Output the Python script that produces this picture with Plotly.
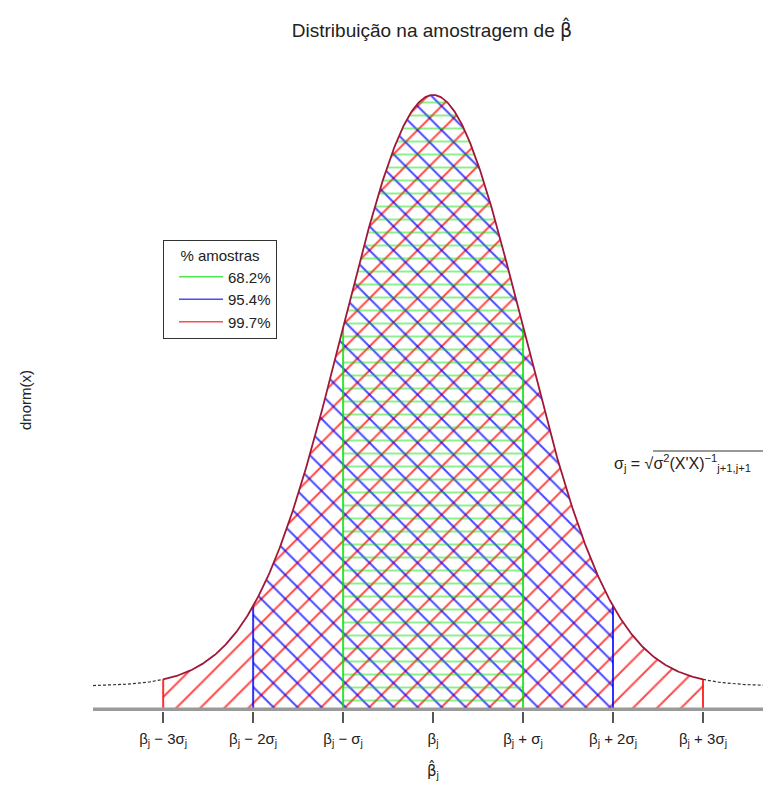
import numpy as np
import plotly.graph_objects as go

# ---- data ----
sigma_mult = [3, 2, 1]                      # half-widths of shaded regions (in sigma)
pct_labels = ["99.7%", "95.4%", "68.2%"]
region_colors = ["#ff0000", "#0000ff", "#00e000"]
hatch_shapes = ["/", "\\", "-"]
hatch_sizes = [17, 17, 13]
hatch_solid = [0.12, 0.12, 0.15]
hatch_opac = [0.7, 0.7, 0.45]
legend_order = [2, 1, 0]                   # legend lists 68.2, 95.4, 99.7

tick_vals = [-3, -2, -1, 0, 1, 2, 3]
tick_text = ["β<sub>j</sub> − 3σ<sub>j</sub>", "β<sub>j</sub> − 2σ<sub>j</sub>",
             "β<sub>j</sub> − σ<sub>j</sub>", "β<sub>j</sub>",
             "β<sub>j</sub> + σ<sub>j</sub>", "β<sub>j</sub> + 2σ<sub>j</sub>",
             "β<sub>j</sub> + 3σ<sub>j</sub>"]

x_min, x_max = -3.78, 3.756
y_min, y_max = -0.01687, 0.4158
base = -0.0159


def dnorm(x):
    return np.exp(-0.5 * np.asarray(x) ** 2) / np.sqrt(2 * np.pi)


fig = go.Figure()

# hatched regions (fill only)
for k, c, shp, sz, so, op in zip(sigma_mult, region_colors, hatch_shapes,
                                 hatch_sizes, hatch_solid, hatch_opac):
    xs = np.linspace(-k, k, 400)
    px = np.concatenate([[-k], xs, [k]])
    py = np.concatenate([[base], dnorm(xs), [base]])
    fig.add_trace(go.Scatter(
        x=px, y=py, mode="lines", fill="toself",
        fillcolor="rgba(0,0,0,0)",
        fillpattern=dict(shape=shp, size=sz, solidity=so, fgcolor=c,
                         bgcolor="rgba(0,0,0,0)", fgopacity=op),
        line=dict(width=0), showlegend=False, hoverinfo="skip"))

# vertical borders of each region
for k, c in zip(sigma_mult, region_colors):
    for s in (-1, 1):
        fig.add_trace(go.Scatter(x=[s * k, s * k], y=[base, float(dnorm(s * k))],
                                 mode="lines", line=dict(color=c, width=2),
                                 opacity=0.8, showlegend=False, hoverinfo="skip"))

# curve (dashed tails, dark red over the shaded part)
xl = np.linspace(x_min, -3, 60)
xr = np.linspace(3, x_max, 60)
for xx in (xl, xr):
    fig.add_trace(go.Scatter(x=xx, y=dnorm(xx), mode="lines",
                             line=dict(color="#333", width=1.2, dash="3px,2px"),
                             showlegend=False, hoverinfo="skip"))
xc = np.linspace(-3, 3, 600)
fig.add_trace(go.Scatter(x=xc, y=dnorm(xc), mode="lines",
                         line=dict(color="#a01838", width=1.8),
                         showlegend=False, hoverinfo="skip"))

# legend entries
for i in legend_order:
    fig.add_trace(go.Scatter(x=[None], y=[None], mode="lines",
                             line=dict(color=region_colors[i], width=1.6),
                             opacity=0.7, name=pct_labels[i]))

# baseline
fig.add_shape(type="line", xref="paper", x0=0, x1=1, yref="y", y0=base, y1=base,
              line=dict(color="#9a9a9a", width=4), layer="above")

font = "Liberation Sans, Arial, sans-serif"
fig.update_layout(
    width=763, height=779,
    margin=dict(l=85, r=0, t=62, b=76),
    plot_bgcolor="white", paper_bgcolor="white",
    font=dict(family=font, size=15, color="#222"),
    title=dict(text="Distribuição na amostragem de <span style='font-family:DejaVu Sans'>β̂</span>",
               x=0.5, xref="paper", y=1 - 22 / 779, yanchor="middle",
               font=dict(size=19, color="#222")),
    xaxis=dict(range=[x_min, x_max], showgrid=False, zeroline=False, showline=False,
               tickmode="array", tickvals=tick_vals, ticktext=tick_text,
               ticks="outside", ticklen=11, tickwidth=1.5, tickcolor="#555",
               ticklabelstandoff=3, tickfont=dict(size=15)),
    yaxis=dict(range=[y_min, y_max], showgrid=False, zeroline=False, showline=False,
               showticklabels=False, ticks=""),
    legend=dict(x=(163 - 93) / 678, y=(711 - 240) / 641, xanchor="left", yanchor="top",
                bordercolor="#333", borderwidth=1, bgcolor="white",
                title=dict(text="% amostras", side="top center", font=dict(size=15)),
                font=dict(size=15), itemwidth=44, indentation=10, tracegroupgap=0),
    showlegend=True,
)

# axis labels and formula
fig.add_annotation(text="dnorm(x)", xref="paper", yref="paper",
                   x=(25 - 93) / 678, y=(711 - 400) / 641, textangle=-90,
                   xanchor="center", yanchor="middle",
                   showarrow=False, font=dict(size=15))
fig.add_annotation(text="<span style='font-family:DejaVu Sans'>β̂</span><sub>j</sub>",
                   xref="x", yref="paper", x=0, xanchor="center", yanchor="middle",
                   y=(711 - 770) / 641, showarrow=False, font=dict(size=15))
fig.add_annotation(text="σ<sub>j</sub> = √σ<sup>2</sup>(X'X)<sup>−1</sup><sub>j+1,j+1</sub>",
                   xref="paper", yref="paper", x=(612 - 93) / 678, y=(711 - 463) / 641,
                   xanchor="left", yanchor="middle",
                   showarrow=False, font=dict(size=16))
# radical bar
fig.add_shape(type="line", xref="paper", yref="paper",
              x0=(653 - 93) / 678, x1=(768 - 93) / 678,
              y0=(711 - 451) / 641, y1=(711 - 451) / 641,
              line=dict(color="#333", width=1))

fig.write_html("out.html")
